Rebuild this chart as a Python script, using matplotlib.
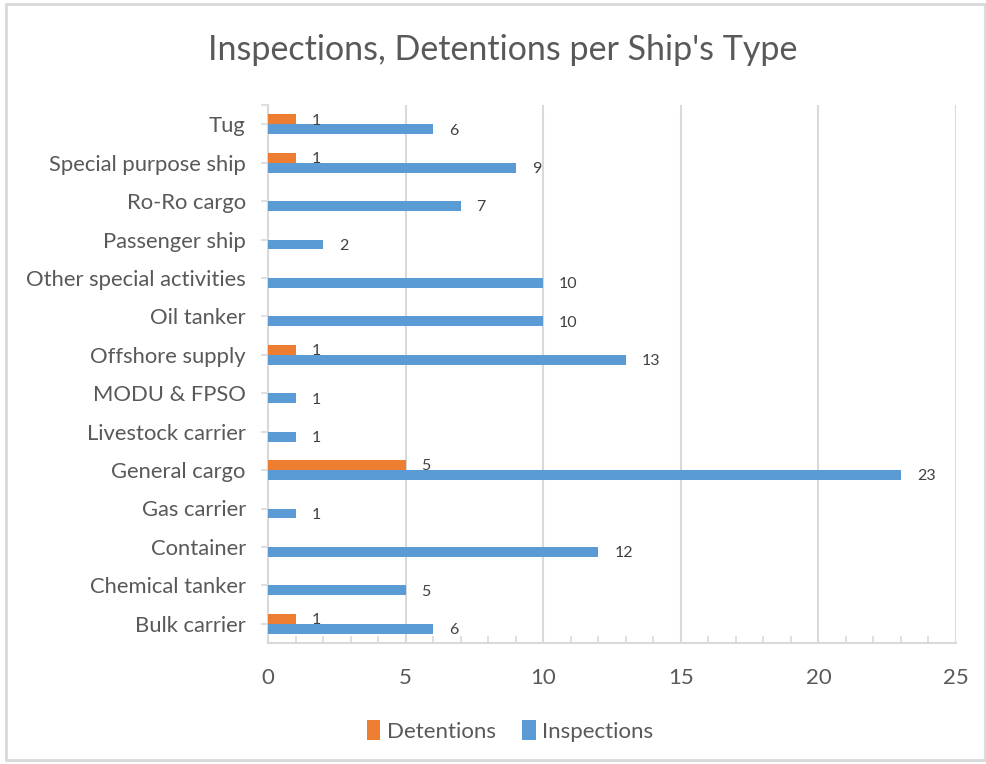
import matplotlib
matplotlib.use("Agg")
import matplotlib.pyplot as plt
from matplotlib.patches import Rectangle, Patch
import numpy as np

plt.rcParams['font.family'] = ['Lato', 'DejaVu Sans']

categories = ["Bulk carrier", "Chemical tanker", "Container", "Gas carrier",
              "General cargo", "Livestock carrier", "MODU & FPSO", "Offshore supply",
              "Oil tanker", "Other special activities", "Passenger ship", "Ro-Ro cargo",
              "Special purpose ship", "Tug"]
inspections = [6, 5, 12, 1, 23, 1, 1, 13, 10, 10, 2, 7, 9, 6]
detentions = [1, 0, 0, 0, 5, 0, 0, 1, 0, 0, 0, 0, 1, 1]
x_ticks = [0, 5, 10, 15, 20, 25]

ORANGE = "#ED7D31"
BLUE = "#5B9BD5"
GRID = "#D9D9D9"
TXT = "#595959"

fig = plt.figure(figsize=(9.87, 7.64), dpi=100)
ax = fig.add_axes([268/987, 1-643/764, (956-268)/987, (643-105)/764])

y = np.arange(len(categories))
h = 0.26
det_bars = ax.barh(y + h/2, detentions, height=h, color=ORANGE, zorder=3)
ins_bars = ax.barh(y - h/2, inspections, height=h, color=BLUE, zorder=3)

for yi, v in zip(y, detentions):
    if v > 0:
        ax.annotate(str(v), (v, yi + h/2), xytext=(11.5, -1.0), textcoords='offset points',
                    ha='left', va='center', fontsize=11.5, color="#404040")
for yi, v in zip(y, inspections):
    ax.annotate(str(v), (v, yi - h/2), xytext=(11.5, -1.0), textcoords='offset points',
                ha='left', va='center', fontsize=11.5, color="#404040")

ax.set_xlim(0, 25)
ax.set_ylim(-0.5, len(categories) - 0.5)
ax.set_xticks(x_ticks)
ax.set_xticks(np.arange(0, 26, 1), minor=True)
ax.set_yticks(list(y) + [len(categories) - 0.5])
ax.set_yticklabels(categories + [""])
ax.grid(axis='x', which='major', color=GRID, linewidth=1.5, zorder=0)

for s in ['top', 'right']:
    ax.spines[s].set_visible(False)
for s in ['left', 'bottom']:
    ax.spines[s].set_color(GRID)
    ax.spines[s].set_linewidth(1.5)

ax.tick_params(axis='y', which='major', length=5, width=1.2, color=GRID,
               labelsize=15.8, labelcolor=TXT, pad=11)
ax.tick_params(axis='x', which='major', length=0, labelsize=16, labelcolor=TXT, pad=18)
ax.tick_params(axis='x', which='minor', direction='in', length=5, width=1.2, color=GRID)

fig.text(503/987, 1-50/764, "Inspections, Detentions per Ship's Type",
         ha='center', va='center', fontsize=24.5, color=TXT)

handles = [Patch(facecolor=ORANGE), Patch(facecolor=BLUE)]
fig.legend(handles, ["Detentions", "Inspections"], loc='center',
           bbox_to_anchor=(510/987, 1-731/764), ncol=2, frameon=False,
           fontsize=16, labelcolor=TXT, handlelength=0.6, handleheight=1.0,
           handletextpad=0.3, columnspacing=1.2)

fig.patches.append(Rectangle((6/987, 4/764), 979/987, 756/764, transform=fig.transFigure,
                             fill=False, edgecolor=GRID, linewidth=2))

fig.savefig("out.png", dpi=100, facecolor="white")
